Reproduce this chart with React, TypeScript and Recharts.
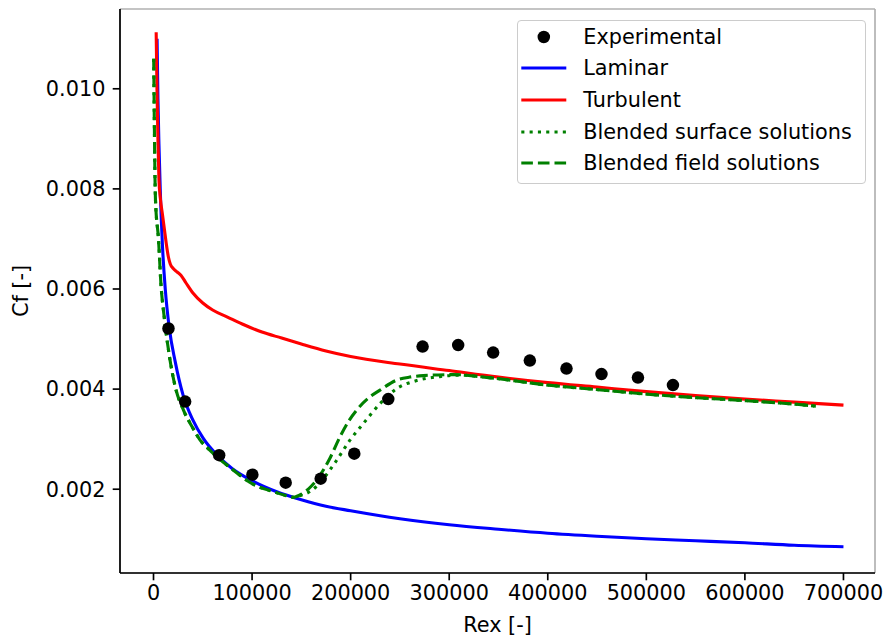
import React from 'react';
import {
  ComposedChart, Line, Scatter, XAxis, YAxis, CartesianGrid, Legend, Label
} from 'recharts';

const FONT = '"DejaVu Sans", Verdana, sans-serif';
const FS = 20.8;

// Experimental points
const expRe = [15200, 32100, 66600, 100300, 134100, 169600, 203700, 238200, 273000, 309100, 344600, 381800, 419000, 454500, 491500, 527000];
const expCf = [0.00521, 0.00375, 0.00268, 0.00229, 0.00213, 0.00221, 0.00271, 0.00380, 0.00485, 0.00488, 0.00473, 0.00457, 0.00441, 0.00430, 0.00423, 0.00408];

// Laminar
const lamRe = [3600, 4500, 5500, 6800, 9000, 12000, 16000, 22000, 30000, 40000, 50000, 65000, 80000, 100000, 125000, 150000, 175000, 200000, 250000, 300000, 350000, 400000, 450000, 500000, 550000, 600000, 650000, 700000];
const lamCf = [0.0110, 0.0098, 0.0089, 0.0080, 0.0069, 0.00598, 0.00522, 0.00455, 0.00388, 0.00338, 0.00303, 0.00267, 0.00241, 0.00217, 0.00195, 0.00179, 0.00166, 0.00157, 0.00141, 0.00129, 0.00120, 0.00112, 0.00106, 0.00101, 0.00097, 0.00093, 0.00088, 0.00085];

// Turbulent
const turbRe = [2700, 3500, 4500, 5500, 7000, 9000, 11000, 13000, 15000, 17000, 20000, 24000, 28000, 33000, 40000, 50000, 60000, 75000, 90000, 110000, 130000, 150000, 175000, 200000, 250000, 300000, 350000, 400000, 450000, 500000, 550000, 600000, 650000, 700000];
const turbCf = [0.01113, 0.0100, 0.0090, 0.0082, 0.0078, 0.0075, 0.0072, 0.0069, 0.00665, 0.00650, 0.00641, 0.00634, 0.00627, 0.00612, 0.00592, 0.00572, 0.00558, 0.00544, 0.00530, 0.00514, 0.00502, 0.00490, 0.00476, 0.00465, 0.00450, 0.00437, 0.00424, 0.00413, 0.00404, 0.00395, 0.00387, 0.00380, 0.00374, 0.00368];

// Blended surface solutions (dotted)
const surfRe = [200, 2000, 5100, 7500, 10800, 15200, 22000, 30400, 40000, 47300, 55000, 64200, 81100, 100000, 121700, 135000, 142000, 150000, 160000, 166000, 172300, 185900, 199300, 212800, 229800, 246700, 267000, 290500, 310000, 340000, 400000, 450000, 500000, 550000, 600000, 650000, 672000];
const surfCf = [0.0106, 0.00778, 0.00698, 0.00611, 0.00545, 0.00478, 0.00405, 0.00358, 0.00322, 0.00298, 0.00282, 0.00265, 0.00238, 0.00211, 0.00195, 0.00187, 0.00184, 0.00188, 0.00197, 0.00207, 0.00221, 0.00258, 0.00298, 0.00331, 0.00371, 0.00401, 0.00417, 0.00425, 0.00428, 0.00423, 0.00408, 0.00399, 0.00390, 0.00383, 0.00377, 0.00370, 0.00366];

// Blended field solutions (dashed)
const fieldRe = [200, 2000, 5100, 7500, 10800, 15200, 22000, 30400, 40000, 47300, 55000, 64200, 81100, 100000, 121700, 135000, 142000, 150000, 160000, 169000, 179000, 189300, 198000, 206100, 218000, 229800, 246700, 260000, 273700, 304000, 340000, 400000, 450000, 500000, 550000, 600000, 650000, 672000];
const fieldCf = [0.0106, 0.00778, 0.00698, 0.00611, 0.00545, 0.00478, 0.00405, 0.00358, 0.00322, 0.00298, 0.00282, 0.00265, 0.00238, 0.00211, 0.00195, 0.00187, 0.00184, 0.00190, 0.00206, 0.00228, 0.00262, 0.00305, 0.00336, 0.00358, 0.00382, 0.00398, 0.00418, 0.00424, 0.00427, 0.00429, 0.00423, 0.00408, 0.00399, 0.00390, 0.00383, 0.00377, 0.00370, 0.00366];

const xTicks = [0, 100000, 200000, 300000, 400000, 500000, 600000, 700000];
const yTicks = [0.002, 0.004, 0.006, 0.008, 0.010];

const zip = (xs: number[], ys: number[]) => xs.map((x, i) => ({ x, y: ys[i] }));

const legendItems = [
  { name: 'Experimental', kind: 'dot', color: '#000000', dash: '' },
  { name: 'Laminar', kind: 'line', color: '#0000ff', dash: '' },
  { name: 'Turbulent', kind: 'line', color: '#ff0000', dash: '' },
  { name: 'Blended surface solutions', kind: 'line', color: '#008000', dash: '3.1 5.2' },
  { name: 'Blended field solutions', kind: 'line', color: '#008000', dash: '11.6 5' },
];

const renderLegend = () => (
  <div style={{
    width: 349, height: 164, boxSizing: 'border-box', position: 'relative',
    border: '1.7px solid #cccccc', borderRadius: 4, background: 'rgba(255,255,255,0.8)',
    fontFamily: FONT, fontSize: FS, color: '#000'
  }}>
    {legendItems.map((it, i) => (
      <div key={it.name} style={{
        position: 'absolute', left: 0, top: 15.6 + i * 31.7 - 15, height: 30,
        display: 'flex', alignItems: 'center'
      }}>
        <svg width={65.6} height={30} style={{ display: 'block' }}>
          {it.kind === 'dot'
            ? <circle cx={25.8} cy={15} r={6.25} fill={it.color} />
            : <line x1={3.3} x2={48.3} y1={15} y2={15} stroke={it.color} strokeWidth={3.1}
                strokeDasharray={it.dash || undefined} />}
        </svg>
        <span style={{ lineHeight: '30px', whiteSpace: 'nowrap' }}>{it.name}</span>
      </div>
    ))}
  </div>
);

const tickStyle = { fontSize: FS, fill: '#000', fontFamily: FONT };

export default function App() {
  return (
    <div style={{ position: 'absolute', left: 0, top: 0, width: 885, height: 639, background: '#fff', fontFamily: FONT }}>
      <ComposedChart width={885} height={639} margin={{ top: 9, right: 10, bottom: 0, left: 0 }}>
        <CartesianGrid stroke="#b0b0b0" strokeWidth={1.67} />
        <XAxis
          xAxisId="main" dataKey="x" type="number" domain={[-34000, 732000]} allowDataOverflow
          ticks={xTicks} interval={0} height={66} tick={tickStyle} tickSize={7.3} tickMargin={5}
          tickFormatter={(v: number) => String(v)}
          axisLine={{ stroke: '#000', strokeWidth: 1.67 }} tickLine={{ stroke: '#000', strokeWidth: 1.67 }}
        >
          <Label content={(p: any) => {
            const vb = p.viewBox || { x: 120, y: 573, width: 755, height: 66 };
            return <text x={vb.x + vb.width / 2} y={632} textAnchor="middle" fontSize={FS} fontFamily={FONT} fill="#000">Rex [-]</text>;
          }} />
        </XAxis>
        <XAxis xAxisId="top" orientation="top" type="number" domain={[-34000, 732000]} allowDataOverflow
          height={0} tick={false} tickLine={false} axisLine={{ stroke: '#000', strokeWidth: 1.67 }} />
        <YAxis
          yAxisId="main" type="number" domain={[0.000326, 0.011594]} allowDataOverflow
          ticks={yTicks} interval={0} width={120} tick={tickStyle} tickSize={7.3} tickMargin={7.3}
          tickFormatter={(v: number) => v.toFixed(3)}
          axisLine={{ stroke: '#000', strokeWidth: 1.67 }} tickLine={{ stroke: '#000', strokeWidth: 1.67 }}
        >
          <Label content={(p: any) => {
            const vb = p.viewBox || { x: 0, y: 9, width: 120, height: 564 };
            const cx = 28;
            const cy = vb.y + vb.height / 2;
            return <text x={cx} y={cy} transform={`rotate(-90 ${cx} ${cy})`} textAnchor="middle"
              fontSize={FS} fontFamily={FONT} fill="#000">Cf [-]</text>;
          }} />
        </YAxis>
        <YAxis yAxisId="right" orientation="right" type="number" domain={[0.000326, 0.011594]} allowDataOverflow
          width={0} tick={false} tickLine={false} axisLine={{ stroke: '#000', strokeWidth: 1.67 }} />

        <Scatter xAxisId="main" yAxisId="main" name="Experimental" data={zip(expRe, expCf)} dataKey="y"
          isAnimationActive={false}
          shape={(p: any) => <circle cx={p.cx} cy={p.cy} r={6.25} fill="#000" />} />
        <Line xAxisId="main" yAxisId="main" name="Laminar" data={zip(lamRe, lamCf)} dataKey="y" type="monotoneX"
          stroke="#0000ff" strokeWidth={3.1} dot={false} activeDot={false} isAnimationActive={false} />
        <Line xAxisId="main" yAxisId="main" name="Turbulent" data={zip(turbRe, turbCf)} dataKey="y" type="monotoneX"
          stroke="#ff0000" strokeWidth={3.1} dot={false} activeDot={false} isAnimationActive={false} />
        <Line xAxisId="main" yAxisId="main" name="Blended surface solutions" data={zip(surfRe, surfCf)} dataKey="y" type="monotoneX"
          stroke="#008000" strokeWidth={3.1} strokeDasharray="3.1 5.2" dot={false} activeDot={false} isAnimationActive={false} />
        <Line xAxisId="main" yAxisId="main" name="Blended field solutions" data={zip(fieldRe, fieldCf)} dataKey="y" type="monotoneX"
          stroke="#008000" strokeWidth={3.1} strokeDasharray="11.6 5" dot={false} activeDot={false} isAnimationActive={false} />

        <Legend layout="horizontal" verticalAlign="middle" align="center" content={renderLegend}
          wrapperStyle={{ left: 516.7, top: 20, width: 349, height: 164 }} />
      </ComposedChart>
    </div>
  );
}
